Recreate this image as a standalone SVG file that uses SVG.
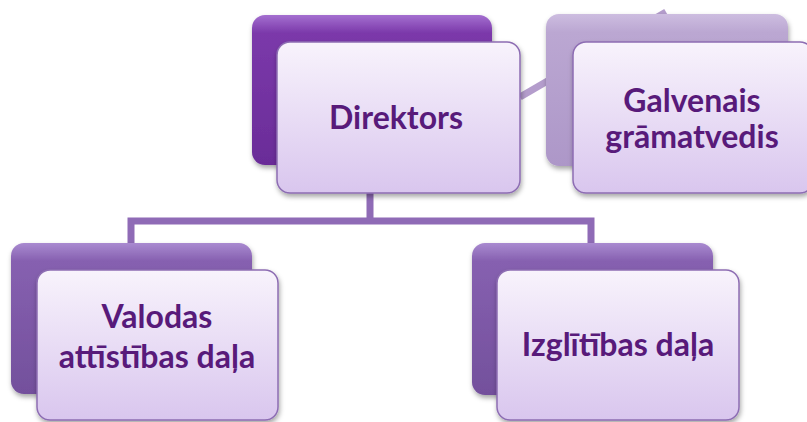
<svg xmlns="http://www.w3.org/2000/svg" width="807" height="422" viewBox="0 0 807 422">
<style>
.front{fill:url(#gFront);stroke:#8d6db3;stroke-width:1.5}
.lbl{font-family:Lato,"Open Sans","Liberation Sans",sans-serif;font-weight:bold;font-size:32px;fill:#581a7a;text-anchor:middle}
.conn{fill:none;stroke:#8f6bb6;stroke-width:7}
</style>
<defs>
<linearGradient id="gFront" x1="0" y1="0" x2="0" y2="1">
<stop offset="0" stop-color="#f8f3fc"/>
<stop offset="1" stop-color="#d9c6ee"/>
</linearGradient>
<linearGradient id="gDark" x1="0" y1="0" x2="0" y2="1">
<stop offset="0" stop-color="#a46fd0"/>
<stop offset="0.12" stop-color="#7b39aa"/>
<stop offset="1" stop-color="#6a2c98"/>
</linearGradient>
<linearGradient id="gMid" x1="0" y1="0" x2="0" y2="1">
<stop offset="0" stop-color="#a98ad0"/>
<stop offset="0.12" stop-color="#8660b0"/>
<stop offset="1" stop-color="#73509c"/>
</linearGradient>
<linearGradient id="gLight" x1="0" y1="0" x2="0" y2="1">
<stop offset="0" stop-color="#cdbde0"/>
<stop offset="0.12" stop-color="#bba7d2"/>
<stop offset="1" stop-color="#ad97c8"/>
</linearGradient>
<filter id="sh" x="-10%" y="-10%" width="125%" height="130%">
<feDropShadow dx="1" dy="3" stdDeviation="2.5" flood-color="#000" flood-opacity="0.35"/>
</filter>
</defs>
<g id="connectors">
<path class="conn" d="M370 192 V221 M131 243 V221 H591 V243"/>
<path d="M520 97 L666 12" stroke="#b49dcc" stroke-width="7" fill="none"/>
</g>
<g id="direktors">
<rect x="252" y="15" width="240" height="150" rx="13" fill="url(#gDark)" filter="url(#sh)"/>
<rect class="front" x="277" y="42" width="243" height="151" rx="13" filter="url(#sh)"/>
<text class="lbl" x="396" y="129">Direktors</text>
</g>
<g id="galvenais">
<rect x="546" y="14" width="242" height="152" rx="13" fill="url(#gLight)" filter="url(#sh)"/>
<rect class="front" x="573" y="42" width="240" height="151" rx="13" filter="url(#sh)"/>
<text class="lbl" x="692" y="112">Galvenais</text>
<text class="lbl" x="692" y="148">grāmatvedis</text>
</g>
<g id="valodas">
<rect x="11" y="243" width="241" height="151" rx="13" fill="url(#gMid)" filter="url(#sh)"/>
<rect class="front" x="37" y="270" width="241" height="150" rx="13" filter="url(#sh)"/>
<text class="lbl" x="157" y="328">Valodas</text>
<text class="lbl" x="157" y="368">attīstības daļa</text>
</g>
<g id="izglitibas">
<rect x="472" y="243" width="241" height="152" rx="13" fill="url(#gMid)" filter="url(#sh)"/>
<rect class="front" x="497" y="270" width="242" height="150" rx="13" filter="url(#sh)"/>
<text class="lbl" x="618" y="356">Izglītības daļa</text>
</g>
</svg>
